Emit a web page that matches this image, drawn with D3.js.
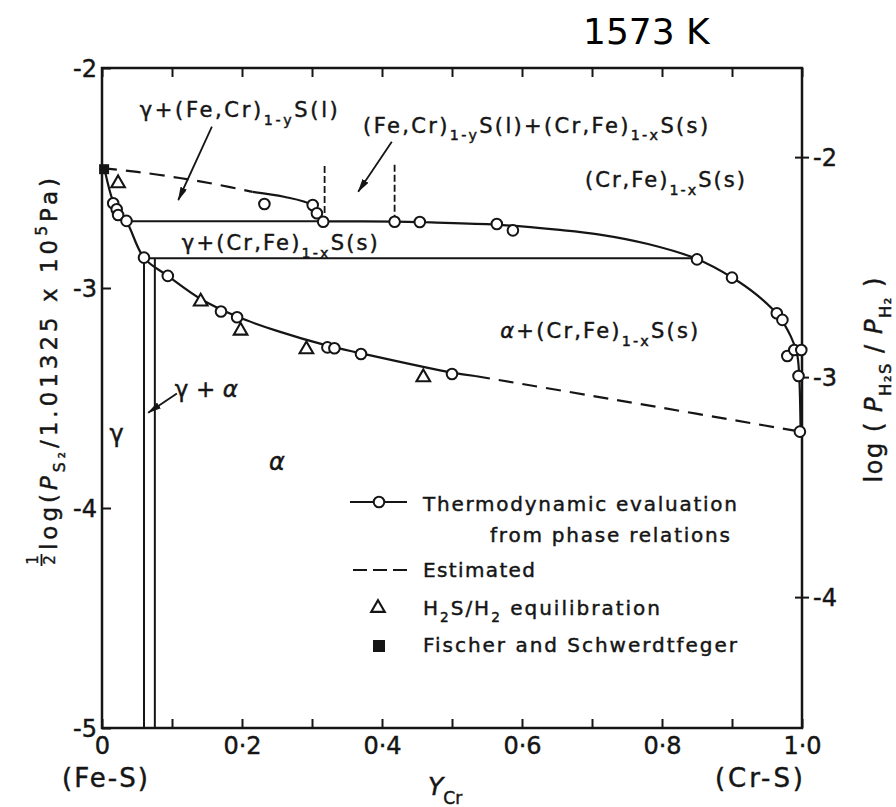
<!DOCTYPE html>
<html><head><meta charset="utf-8">
<script src="https://cdn.jsdelivr.net/npm/d3@7"></script>
<style>body{margin:0;background:#fff}svg{display:block}</style>
</head><body><svg id="c" width="896" height="807"></svg>
<script>
// ---------------- DATA ----------------
const temperatureLabel = "1573 K";
const xTickValues = [0,0.1,0.2,0.3,0.4,0.5,0.6,0.7,0.8,0.9,1.0];
const xTickLabels = {"0":"0","0.2":"0·2","0.4":"0·4","0.6":"0·6","0.8":"0·8","1":"1·0"};
const yLeftTicks = [-2,-3,-4,-5];
const yRightTicks = [-2,-3,-4];
const h2sOffset = 0.405; // log(PH2S/PH2) = 1/2 log PS2 + offset

// phase boundary curves [Y_Cr, 1/2 log PS2]
const liquidusEstimated = [[0,-2.455],[0.05,-2.472],[0.111,-2.50],[0.16,-2.527],[0.215,-2.563]];
const liquidusEvaluated = [[0.215,-2.563],[0.26,-2.585],[0.30,-2.622],[0.31,-2.66],[0.318,-2.697]];
const sulfideBoundary = [[0.318,-2.697],[0.418,-2.698],[0.47,-2.702],[0.563,-2.712],[0.65,-2.735],[0.711,-2.757],[0.78,-2.80],[0.85,-2.868],[0.90,-2.952],[0.935,-3.03],[0.966,-3.125],[0.984,-3.22],[0.993,-3.30],[0.996,-3.40],[0.998,-3.653]];
const alphaBoundaryEvaluated = [[0.005,-2.48],[0.013,-2.58],[0.021,-2.645],[0.035,-2.697],[0.06,-2.863],[0.094,-2.945],[0.141,-3.05],[0.193,-3.13],[0.25,-3.195],[0.322,-3.262],[0.37,-3.297],[0.5,-3.385],[0.533,-3.40]];
const alphaBoundaryEstimated = [[0.533,-3.40],[0.735,-3.509],[0.998,-3.653]];
const tieLines = [[[0.035,-2.697],[0.318,-2.697]],[[0.06,-2.865],[0.85,-2.865]]];
const gammaAlphaLines = [[[0.060,-2.865],[0.060,-5]],[[0.0755,-2.865],[0.0755,-5]]];
const liquidLimits = [[[0.318,-2.445],[0.318,-2.68]],[[0.418,-2.44],[0.418,-2.68]]];

// points
const thermoPoints = [[0.016,-2.615],[0.021,-2.642],[0.023,-2.668],[0.035,-2.695],[0.06,-2.862],[0.094,-2.945],[0.17,-3.107],[0.193,-3.133],[0.322,-3.27],[0.332,-3.274],[0.37,-3.30],[0.5,-3.391],
  [0.232,-2.618],[0.301,-2.623],[0.307,-2.66],[0.316,-2.699],[0.418,-2.699],[0.454,-2.70],[0.564,-2.709],[0.587,-2.738],
  [0.85,-2.87],[0.90,-2.953],[0.964,-3.115],[0.972,-3.145],[0.979,-3.309],[0.989,-3.282],[0.999,-3.282],[0.995,-3.40],[0.997,-3.653]];
const h2sPoints = [[0.023,-2.524],[0.141,-3.062],[0.198,-3.194],[0.292,-3.279],[0.459,-3.406]];
const fischerPoints = [[0.003,-2.46]];

// arrows [from, to]
const arrows = [[[0.157,-2.267],[0.109,-2.60]],[[0.414,-2.335],[0.366,-2.562]],[[0.107,-3.479],[0.066,-3.567]]];

// ---------------- DRAW ----------------
const INK = "#151515";
const FONT = "'DejaVu Sans', Verdana, sans-serif";
const TS = 0.45; // text stroke to mimic heavy print
const svg = d3.select("#c");
const x = d3.scaleLinear().domain([0,1]).range([102,802]);
const y = d3.scaleLinear().domain([-5,-2]).range([728,68]);
const yR = d3.scaleLinear().domain([-5+h2sOffset,-2+h2sOffset]).range([728,68]);

svg.append("defs").append("marker").attr("id","ah").attr("viewBox","0 0 14 7")
  .attr("refX",13).attr("refY",3.5).attr("markerWidth",14).attr("markerHeight",7)
  .attr("markerUnits","userSpaceOnUse").attr("orient","auto")
  .append("path").attr("d","M0,0L14,3.5L0,7Z").attr("fill",INK);

// frame
svg.append("rect").attr("x",x(0)).attr("y",y(-2)).attr("width",x(1)-x(0)).attr("height",y(-5)-y(-2))
  .attr("fill","none").attr("stroke",INK).attr("stroke-width",2.5);

// axes
const fmtY = d => "-" + Math.abs(d);
const axBottom = svg.append("g").attr("transform",`translate(0,${y(-5)})`)
  .call(d3.axisBottom(x).tickValues(xTickValues).tickSizeInner(-9).tickSizeOuter(0).tickPadding(9)
  .tickFormat(d => xTickLabels[String(+d.toFixed(1))] || ""));
const axTop = svg.append("g").attr("transform",`translate(0,${y(-2)})`)
  .call(d3.axisTop(x).tickValues(xTickValues).tickSizeInner(-9).tickSizeOuter(0).tickFormat(""));
const axLeft = svg.append("g").attr("transform",`translate(${x(0)},0)`)
  .call(d3.axisLeft(y).tickValues(yLeftTicks).tickSizeInner(-9).tickSizeOuter(0).tickPadding(5).tickFormat(fmtY));
const axRight = svg.append("g").attr("transform",`translate(${x(1)},0)`)
  .call(d3.axisRight(yR).tickValues(yRightTicks).tickSizeInner(7).tickSizeOuter(0).tickPadding(4).tickFormat(fmtY));
axRight.selectAll(".tick line").attr("x1",-7);
[axBottom,axTop,axLeft,axRight].forEach(g=>{
  g.select(".domain").remove();
  g.selectAll(".tick line").attr("stroke",INK).attr("stroke-width",2);
  g.selectAll("text").attr("font-family",FONT).attr("font-size",24).attr("fill",INK)
    .attr("stroke",INK).attr("stroke-width",TS);
});
axLeft.selectAll("text").attr("dy","0.36em");
axRight.selectAll("text").attr("dy","0.36em");

// curves
const line = d3.line().x(d=>x(d[0])).y(d=>y(d[1])).curve(d3.curveCatmullRom.alpha(0.5));
const straight = d3.line().x(d=>x(d[0])).y(d=>y(d[1]));
const g = svg.append("g").attr("fill","none").attr("stroke",INK);
[liquidusEvaluated, sulfideBoundary, alphaBoundaryEvaluated].forEach(c=>
  g.append("path").attr("d",line(c)).attr("stroke-width",2.2));
[liquidusEstimated, alphaBoundaryEstimated].forEach(c=>
  g.append("path").attr("d",line(c)).attr("stroke-width",2.2).attr("stroke-dasharray","15,9"));
tieLines.concat(gammaAlphaLines).forEach(c=>
  g.append("path").attr("d",straight(c)).attr("stroke-width",2));
liquidLimits.forEach(c=>
  g.append("path").attr("d",straight(c)).attr("stroke-width",1.8).attr("stroke-dasharray","7,3"));
arrows.forEach(a=>
  g.append("path").attr("d",straight(a)).attr("stroke-width",1.8).attr("marker-end","url(#ah)"));

// markers
const pts = svg.append("g");
pts.selectAll("circle.t").data(thermoPoints).join("circle").attr("class","t")
  .attr("cx",d=>x(d[0])).attr("cy",d=>y(d[1])).attr("r",5.3)
  .attr("fill","#fff").attr("stroke",INK).attr("stroke-width",2);
const tri = d3.symbol().type(d3.symbolTriangle).size(80);
pts.selectAll("path.h").data(h2sPoints).join("path").attr("class","h")
  .attr("d",tri).attr("transform",d=>`translate(${x(d[0])},${y(d[1])})`)
  .attr("fill","#fff").attr("stroke",INK).attr("stroke-width",2.1);
pts.selectAll("rect.f").data(fischerPoints).join("rect").attr("class","f")
  .attr("x",d=>x(d[0])-5).attr("y",d=>y(d[1])-5).attr("width",10).attr("height",10).attr("fill",INK);

// rich text helper
function rich(parent, px, py, parts, fs, opts={}) {
  const t = parent.append("text").attr("x",px).attr("y",py).attr("font-family",FONT)
    .attr("font-size",fs).attr("fill",INK).attr("stroke",INK).attr("stroke-width",TS);
  if (opts.anchor) t.attr("text-anchor",opts.anchor);
  if (opts.len) t.attr("textLength",opts.len).attr("lengthAdjust",opts.adj||"spacing");
  if (opts.ls) t.attr("letter-spacing",opts.ls);
  let shift = 0;
  parts.forEach(p=>{
    const o = typeof p === "string" ? {t:p} : p;
    const target = o.sub ? fs*0.36 : o.sup ? -fs*0.42 : 0;
    const ts = t.append("tspan").text(o.t).attr("dy", target - shift);
    shift = target;
    if (o.sub || o.sup) ts.attr("font-size", fs*0.68);
    if (o.i) ts.attr("font-style","italic");
  });
  return t;
}

// region labels
const L = svg.append("g");
rich(L, x(0.054), y(-2.223), ["γ+(Fe,Cr)",{t:"1-y",sub:true},"S(l)"], 21, {len:198});
rich(L, x(0.373), y(-2.295), ["(Fe,Cr)",{t:"1-y",sub:true},"S(l)+(Cr,Fe)",{t:"1-x",sub:true},"S(s)"], 21, {len:345});
rich(L, x(0.69), y(-2.541), ["(Cr,Fe)",{t:"1-x",sub:true},"S(s)"], 21, {len:160});
rich(L, x(0.114), y(-2.827), ["γ+(Cr,Fe)",{t:"1-x",sub:true},"S(s)"], 21, {len:196});
rich(L, x(0.569), y(-3.227), [{t:"α",i:true},"+(Cr,Fe)",{t:"1-x",sub:true},"S(s)"], 21, {len:198});
rich(L, x(0.104), y(-3.495), ["γ + ",{t:"α",i:true}], 23, {len:63});
rich(L, x(0.021), y(-3.70), ["γ"], 24, {anchor:"middle"});
rich(L, x(0.25), y(-3.827), [{t:"α",i:true}], 24, {anchor:"middle"});

// temperature
svg.append("text").attr("x",583).attr("y",44).attr("font-family","'DejaVu Sans', Verdana, sans-serif")
  .attr("font-size",36).attr("fill","#000").text(temperatureLabel);

// x labels
rich(svg, 62, 787, ["(Fe-S)"], 26, {len:86});
rich(svg, 715, 787, ["(Cr-S)"], 26, {len:88});
rich(svg, 428, 795, [{t:"Y",i:true},{t:"Cr",sub:true}], 25);

// left y label (rotated)
const yl = svg.append("g").attr("transform","translate(48,378) rotate(-90)");
yl.append("text").attr("x",-182).attr("y",-10).attr("font-family",FONT).attr("font-size",15).attr("fill",INK).attr("stroke",INK).attr("stroke-width",0.3).attr("text-anchor","middle").text("1");
yl.append("line").attr("x1",-188).attr("x2",-176).attr("y1",-6.5).attr("y2",-6.5).attr("stroke",INK).attr("stroke-width",1.8);
yl.append("text").attr("x",-182).attr("y",7).attr("font-family",FONT).attr("font-size",15).attr("fill",INK).attr("stroke",INK).attr("stroke-width",0.3).attr("text-anchor","middle").text("2");
rich(yl, -172, 9, ["log(",{t:"P",i:true},{t:"S₂",sub:true},"/1.01325 x 10",{t:"5",sup:true},"Pa)"], 23, {len:372});

// right y label (rotated)
const yr = svg.append("g").attr("transform","translate(875,380) rotate(-90)");
rich(yr, 0, 7, ["log ( ",{t:"P",i:true},{t:"H₂S",sub:true}," / ",{t:"P",i:true},{t:"H₂",sub:true}," )"], 24, {anchor:"middle", len:205});

// legend
const lg = svg.append("g");
lg.append("line").attr("x1",350).attr("x2",407).attr("y1",502).attr("y2",502).attr("stroke",INK).attr("stroke-width",2);
lg.append("circle").attr("cx",379).attr("cy",502).attr("r",5.3).attr("fill","#fff").attr("stroke",INK).attr("stroke-width",2);
rich(lg, 423, 511, ["Thermodynamic  evaluation"], 20, {len:314});
rich(lg, 490, 542, ["from  phase  relations"], 20, {len:240});
lg.append("line").attr("x1",353).attr("x2",407).attr("y1",570).attr("y2",570).attr("stroke",INK).attr("stroke-width",2).attr("stroke-dasharray","14,6");
rich(lg, 423, 577, ["Estimated"], 20, {len:112});
lg.append("path").attr("d",d3.symbol().type(d3.symbolTriangle).size(80)).attr("transform","translate(378,608)")
  .attr("fill","#fff").attr("stroke",INK).attr("stroke-width",2.1);
rich(lg, 423, 615, ["H",{t:"2",sub:true},"S/H",{t:"2",sub:true}," equilibration"], 20, {len:237});
lg.append("rect").attr("x",373).attr("y",640).attr("width",12).attr("height",12).attr("fill",INK);
rich(lg, 423, 652, ["Fischer and  Schwerdtfeger"], 20, {len:314});
</script></body></html>
